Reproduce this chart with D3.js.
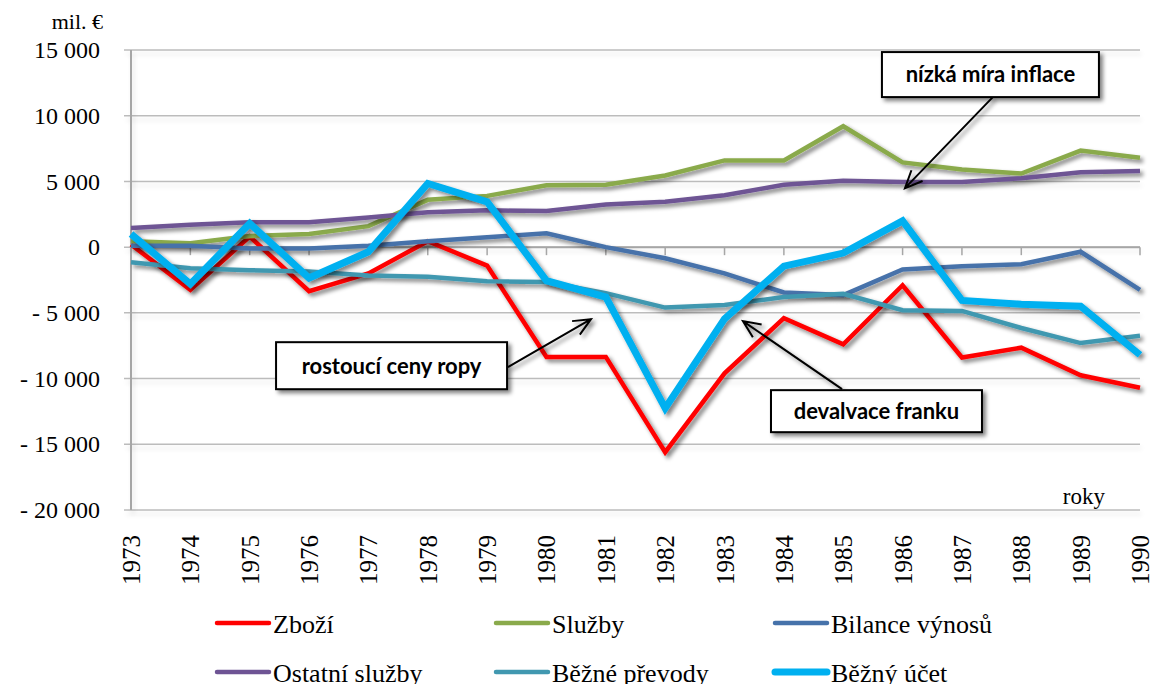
<!DOCTYPE html>
<html>
<head>
<meta charset="utf-8">
<script src="https://cdn.jsdelivr.net/npm/d3@7"></script>
<style>
body { margin: 0; background: #fff; }
svg { display: block; }
.serif { font-family: "Liberation Serif", "Times New Roman", serif; fill: #000; }
.note { font-family: Lato, "Open Sans", sans-serif; font-weight: bold; fill: #000; }
</style>
</head>
<body>
<svg id="chart" width="1151" height="684"></svg>
<script>
// roky
var years = [1973,1974,1975,1976,1977,1978,1979,1980,1981,1982,1983,1984,1985,1986,1987,1988,1989,1990];

// hodnoty v mil. €
var zbozi     = [200,-3250,800,-3350,-2000,450,-1400,-8350,-8350,-15600,-9600,-5400,-7400,-2900,-8400,-7650,-9750,-10700];
var sluzby    = [450,300,850,1000,1600,3600,3900,4700,4750,5450,6600,6600,9200,6450,5900,5600,7350,6800];
var vynosy    = [100,100,-100,-100,100,450,750,1050,0,-850,-2000,-3450,-3650,-1700,-1450,-1300,-350,-3250];
var ostatni   = [1450,1700,1900,1900,2250,2650,2800,2750,3250,3450,3950,4750,5050,4950,4950,5250,5700,5800];
var prevody   = [-1150,-1600,-1750,-1850,-2150,-2250,-2600,-2650,-3500,-4600,-4400,-3800,-3550,-4800,-4850,-6150,-7300,-6750];
var ucet      = [1000,-2800,1800,-2350,-350,4850,3450,-2550,-3800,-12250,-5450,-1450,-450,2000,-4050,-4350,-4500,-8200];

var yTicks = [15000,10000,5000,0,-5000,-10000,-15000,-20000];

var series = [
  {name:"Zboží",           values:zbozi,   color:"#ff0000", w:4.5},
  {name:"Služby",          values:sluzby,  color:"#8aaa4b", w:4.5},
  {name:"Bilance výnosů",  values:vynosy,  color:"#4672aa", w:4.5},
  {name:"Ostatní služby",  values:ostatni, color:"#6e5494", w:4.5},
  {name:"Běžné převody",   values:prevody, color:"#4198b0", w:4.5},
  {name:"Běžný účet",      values:ucet,    color:"#00b0f0", w:7}
];

// popisky se šipkami (souřadnice v jednotkách grafu)
var notes = [
  {text:"nízká míra inflace", bx:1987.48, by:13130, bw:217, bh:45, from:[1987.52,11415], to:[1986.04,4490]},
  {text:"rostoucí ceny ropy", bx:1977.39, by:-9020, bw:231, bh:47, from:[1979.35,-9130], to:[1980.75,-5480]},
  {text:"devalvace franku",   bx:1985.56, by:-12480, bw:211, bh:42, from:[1984.98,-10800], to:[1983.31,-5630]}
];

var svg = d3.select("#chart");
var plotL = 131, plotR = 1140, plotT = 50, plotB = 510;

var x = d3.scaleLinear().domain([1973,1990]).range([plotL,plotR]);
var y = d3.scaleLinear().domain([-20000,15000]).range([plotB,plotT]);

var loc = d3.formatLocale({decimal:",", thousands:" ", grouping:[3], currency:["","€"]});
var fmt = loc.format(",d");
function tickText(v) { return v < 0 ? "- " + fmt(-v) : fmt(v); }

var defs = svg.append("defs");
var sh = defs.append("filter").attr("id","shadow").attr("x","-10%").attr("y","-10%").attr("width","120%").attr("height","130%");
sh.append("feGaussianBlur").attr("in","SourceAlpha").attr("stdDeviation",2).attr("result","b");
sh.append("feOffset").attr("in","b").attr("dx",3).attr("dy",3).attr("result","o");
sh.append("feComponentTransfer").attr("in","o").attr("result","s")
  .append("feFuncA").attr("type","linear").attr("slope",0.5);
var m = sh.append("feMerge");
m.append("feMergeNode").attr("in","s");
m.append("feMergeNode").attr("in","SourceGraphic");

var sh2 = defs.append("filter").attr("id","gshadow").attr("filterUnits","userSpaceOnUse")
  .attr("x",0).attr("y",0).attr("width",1151).attr("height",684);
sh2.append("feGaussianBlur").attr("in","SourceAlpha").attr("stdDeviation",2.5).attr("result","b");
sh2.append("feOffset").attr("in","b").attr("dx",2).attr("dy",4).attr("result","o");
sh2.append("feComponentTransfer").attr("in","o").attr("result","s")
  .append("feFuncA").attr("type","linear").attr("slope",0.12);
var m2 = sh2.append("feMerge");
m2.append("feMergeNode").attr("in","s");
m2.append("feMergeNode").attr("in","SourceGraphic");

// mřížka
svg.append("g").attr("filter","url(#gshadow)")
  .selectAll("line").data(yTicks).enter().append("line")
  .attr("x1",plotL - 7).attr("x2",plotR)
  .attr("y1",function(d){return y(d);}).attr("y2",function(d){return y(d);})
  .attr("stroke","#bcbcbc").attr("stroke-width",1.5);

// svislá osa
svg.append("line").attr("filter","url(#gshadow)")
  .attr("x1",plotL).attr("x2",plotL).attr("y1",plotT).attr("y2",plotB)
  .attr("stroke","#a6a6a6").attr("stroke-width",2);

// vodorovná osa na nule s čárkami
svg.append("line")
  .attr("x1",plotL).attr("x2",plotR).attr("y1",y(0)).attr("y2",y(0))
  .attr("stroke","#a6a6a6").attr("stroke-width",2);
svg.append("g").selectAll("line").data(years).enter().append("line")
  .attr("x1",function(d){return x(d);}).attr("x2",function(d){return x(d);})
  .attr("y1",y(0)).attr("y2",y(0) + 8)
  .attr("stroke","#a6a6a6").attr("stroke-width",1.5);

// popisky osy y
svg.append("g").selectAll("text").data(yTicks).enter().append("text")
  .attr("class","serif")
  .attr("x",100).attr("y",function(d){return y(d);}).attr("dy","0.34em")
  .attr("text-anchor","end").attr("font-size",24)
  .text(tickText);

svg.append("text").attr("class","serif").attr("x",103).attr("y",29)
  .attr("text-anchor","end").attr("font-size",22).text("mil. €");
svg.append("text").attr("class","serif").attr("x",1105).attr("y",504)
  .attr("text-anchor","end").attr("font-size",23).text("roky");

// popisky osy x
svg.append("g").selectAll("text").data(years).enter().append("text")
  .attr("class","serif")
  .attr("transform",function(d){return "translate(" + (x(d) + 9) + ",535) rotate(-90)";})
  .attr("text-anchor","end").attr("font-size",25)
  .text(function(d){return d;});

// čáry
var line = d3.line()
  .x(function(d,i){return x(years[i]);})
  .y(function(d){return y(d);});

svg.append("g").selectAll("path").data(series).enter().append("path")
  .attr("d",function(s){return line(s.values);})
  .attr("fill","none")
  .attr("stroke",function(s){return s.color;})
  .attr("stroke-width",function(s){return s.w;})
  .attr("stroke-linejoin","miter")
  .attr("filter","url(#shadow)");

// šipky a rámečky
notes.forEach(function(n){
  var x1 = x(n.from[0]), y1 = y(n.from[1]), x2 = x(n.to[0]), y2 = y(n.to[1]);
  var a = Math.atan2(y2 - y1, x2 - x1), hl = 19, ha = 0.42;
  svg.append("path")
    .attr("d","M" + x1 + "," + y1 + "L" + x2 + "," + y2 +
      "M" + (x2 - hl*Math.cos(a - ha)) + "," + (y2 - hl*Math.sin(a - ha)) +
      "L" + x2 + "," + y2 +
      "L" + (x2 - hl*Math.cos(a + ha)) + "," + (y2 - hl*Math.sin(a + ha)))
    .attr("fill","none").attr("stroke","#000").attr("stroke-width",2)
    .attr("filter","url(#shadow)");
  var cx = x(n.bx), cy = y(n.by);
  svg.append("rect")
    .attr("x",cx - n.bw/2).attr("y",cy - n.bh/2).attr("width",n.bw).attr("height",n.bh)
    .attr("fill","#fff").attr("stroke","#000").attr("stroke-width",2)
    .attr("filter","url(#shadow)");
  svg.append("text").attr("class","note")
    .attr("x",cx).attr("y",cy).attr("dy","0.36em")
    .attr("text-anchor","middle").attr("font-size",22)
    .text(n.text);
});

// legenda
var legX = [215,494,773], legY = [623,672];
var leg = svg.append("g").selectAll("g").data(series).enter().append("g")
  .attr("transform",function(s,i){return "translate(" + legX[i % 3] + "," + legY[Math.floor(i / 3)] + ")";});
leg.append("line").attr("x1",2).attr("x2",54).attr("y1",0).attr("y2",0)
  .attr("stroke",function(s){return s.color;})
  .attr("stroke-width",function(s){return s.w === 7 ? 7 : 4.5;})
  .attr("stroke-linecap","round");
leg.append("text").attr("class","serif")
  .attr("x",58).attr("y",10).attr("font-size",26)
  .text(function(s){return s.name;});
</script>
</body>
</html>
